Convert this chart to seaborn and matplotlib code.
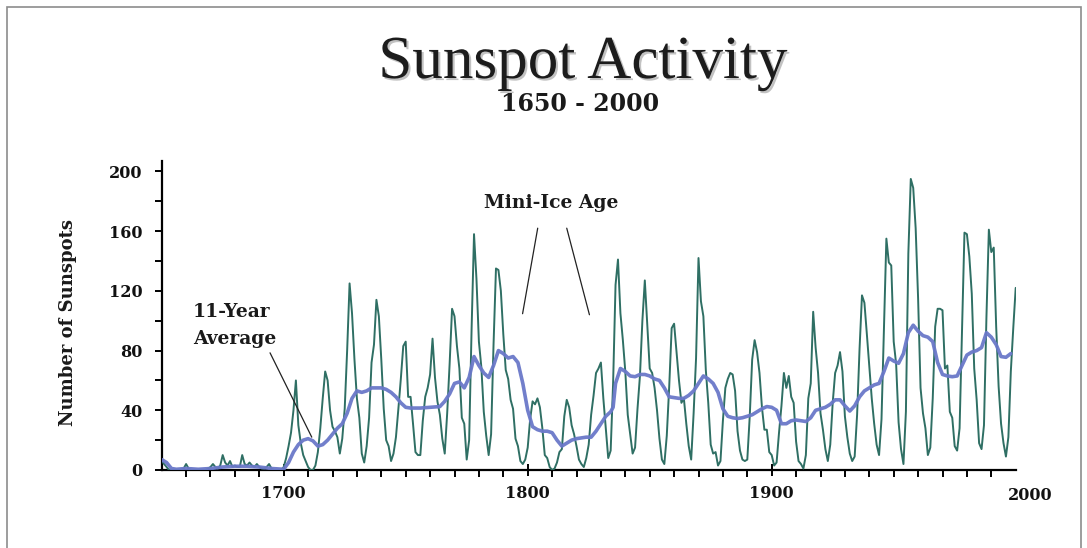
import numpy as np
import pandas as pd
import matplotlib
matplotlib.use("Agg")
import matplotlib.pyplot as plt
import matplotlib.patheffects as pe
from matplotlib.patches import Rectangle
from matplotlib.ticker import FixedLocator, NullFormatter
import seaborn as sns

# ---------------- data ----------------
years = list(range(1650, 2001))
sunspots = [
    # 1650-1699
    6, 4, 2, 0, 0, 0, 0, 0, 0, 1, 4, 1, 0, 0, 0, 0, 0, 0, 0, 1,
    2, 4, 2, 1, 3, 10, 5, 3, 6, 2, 3, 2, 2, 10, 4, 3, 5, 3, 2, 4,
    2, 1, 1, 2, 4, 1, 0, 0, 0, 0,
    # 1700-1749
    2, 8, 16, 25, 40, 60, 30, 18, 10, 6, 2, 0, 0, 3, 12, 28, 48, 66, 60, 40,
    29, 26, 22, 11, 21, 41, 80, 125, 105, 74, 48, 35, 11, 5, 16, 35, 72, 84, 114, 103,
    74, 41, 20, 16, 6, 11, 22, 41, 61, 83,
    # 1750-1799
    86, 49, 49, 31, 12, 10, 10, 33, 49, 55, 64, 88, 62, 46, 37, 21, 11, 38, 71, 108,
    103, 83, 68, 35, 31, 7, 20, 94, 158, 128, 86, 69, 39, 23, 10, 24, 84, 135, 134, 120,
    91, 67, 61, 47, 41, 21, 16, 6, 4, 7,
    # 1800-1849
    15, 34, 46, 44, 48, 42, 28, 10, 8, 2, 0, 1, 5, 12, 14, 36, 47, 42, 30, 24,
    16, 7, 4, 2, 8, 17, 37, 50, 65, 68, 72, 48, 28, 8, 13, 58, 124, 141, 105, 87,
    66, 37, 24, 11, 15, 41, 63, 100, 127, 98,
    # 1850-1899
    68, 65, 55, 40, 21, 7, 4, 23, 56, 95, 98, 79, 60, 45, 48, 31, 16, 7, 38, 75,
    142, 113, 103, 67, 45, 17, 11, 12, 3, 6, 33, 55, 61, 65, 64, 53, 26, 13, 7, 6,
    7, 36, 74, 87, 79, 65, 42, 27, 27, 12,
    # 1900-1949
    10, 3, 5, 25, 43, 65, 55, 63, 49, 45, 19, 6, 4, 1, 10, 48, 58, 106, 82, 65,
    38, 27, 14, 6, 17, 45, 65, 70, 79, 66, 36, 22, 11, 6, 9, 37, 81, 117, 112, 91,
    69, 48, 31, 17, 10, 34, 94, 155, 139, 137,
    # 1950-2000
    86, 71, 32, 14, 4, 39, 145, 195, 189, 162, 115, 55, 38, 28, 10, 15, 48, 96, 108, 108,
    107, 68, 70, 39, 35, 16, 13, 28, 94, 159, 158, 143, 118, 68, 47, 18, 14, 30, 102, 161,
    146, 149, 96, 56, 31, 18, 9, 22, 66, 95, 122,
]

avg_years = [1650, 1652, 1654, 1656, 1660, 1665, 1670, 1675, 1680, 1685, 1690, 1695,
             1700, 1702, 1704, 1706, 1708, 1710, 1712, 1714, 1716, 1718, 1720, 1722,
             1724, 1726, 1728, 1730, 1732, 1734, 1736, 1738, 1740, 1742, 1744, 1746,
             1748, 1750, 1752, 1756, 1760, 1764, 1766, 1768, 1770, 1772, 1774, 1776,
             1778, 1780, 1782, 1784, 1786, 1788, 1790, 1792, 1794, 1796, 1798, 1800,
             1802, 1804, 1806, 1808, 1810, 1812, 1814, 1816, 1818, 1820, 1822, 1824,
             1826, 1828, 1830, 1832, 1834, 1835, 1836, 1838, 1840, 1842, 1844, 1846,
             1848, 1850, 1852, 1854, 1856, 1858, 1860, 1862, 1864, 1866, 1868, 1870,
             1872, 1874, 1876, 1878, 1880, 1882, 1884, 1886, 1888, 1890, 1892, 1894,
             1896, 1898, 1900, 1902, 1904, 1906, 1908, 1910, 1912, 1914, 1916, 1918,
             1920, 1922, 1924, 1926, 1928, 1930, 1932, 1934, 1936, 1938, 1940, 1942,
             1944, 1946, 1948, 1950, 1952, 1954, 1956, 1958, 1960, 1962, 1964, 1966,
             1968, 1970, 1972, 1974, 1976, 1978, 1980, 1982, 1984, 1986, 1988, 1990,
             1992, 1994, 1996, 1998]
avg_values = [7, 5, 1, 0.5, 1, 0.5, 1, 2, 2.5, 2.5, 2, 1,
              0.5, 5, 12, 17, 20, 21, 19.5, 16, 17, 20, 24, 28,
              31, 38, 48, 53, 52, 53, 55, 55, 55, 54, 52, 49,
              45, 42, 41.5, 41.5, 42, 42.5, 46, 51, 58, 59, 55, 62,
              76, 70, 65, 62, 70, 80, 78, 75, 76, 72, 58, 40,
              29, 27, 26, 26, 25, 20, 16, 18, 20, 21, 21.5, 22,
              22, 26, 31, 36, 39, 42, 58, 68, 66, 63, 62.5, 64,
              64, 63, 61, 60, 55, 49, 48.5, 48, 48, 50, 53, 58,
              63, 61, 58, 52, 41, 36, 35, 34.5, 35, 36, 37, 39,
              41, 42.5, 42, 40, 31, 31, 33, 33.5, 33, 32.5, 35, 40,
              41, 42, 44, 47, 47, 43, 39.5, 43, 49, 53, 55, 57,
              58, 66, 75, 73, 71.5, 78, 92, 97, 93, 90, 89, 86,
              72, 64, 63, 62.5, 63, 70, 77, 79, 80, 82, 92, 89,
              84, 76, 75.5, 78]

y_ticks = [0, 40, 80, 120, 160, 200]
y_minor = [20, 60, 100, 140, 180]
x_ticks = [1700, 1800, 1900]
x_minor = [y for y in range(1660, 2000, 10) if y not in (1700, 1800, 1900)]

title = "Sunspot Activity"
subtitle = "1650 - 2000"
ylabel = "Number of Sunspots"

# ---------------- figure ----------------
W, H = 1087, 548
sns.set_style("white")
plt.rcParams["font.family"] = ["DejaVu Serif", "DejaVu Sans"]
fig = plt.figure(figsize=(W / 100, H / 100), dpi=100, facecolor="white")

def fx(px):
    return px / W

def fy(py):
    return 1 - py / H

ax = fig.add_axes([fx(161.7), fy(470), fx(1015.7) - fx(161.7), fy(161) - fy(470)])
ax.set_facecolor("white")

df = pd.DataFrame({"year": years, "spots": sunspots})
dfa = pd.DataFrame({"year": avg_years, "avg": avg_values})
sns.lineplot(data=df, x="year", y="spots", ax=ax, color="#2f6f64", linewidth=1.4, zorder=3)
sns.lineplot(data=dfa, x="year", y="avg", ax=ax, color="#6a78c9", linewidth=2.6, alpha=0.95, zorder=4)

ax.set_xlim(1650, 2000)
ax.set_ylim(0, 207)
ax.set_xlabel("")
ax.set_ylabel("")

for s in ["top", "right"]:
    ax.spines[s].set_visible(False)
for s in ["left", "bottom"]:
    ax.spines[s].set_color("black")
    ax.spines[s].set_linewidth(1.6)

ax.set_yticks(y_ticks)
ax.set_yticklabels([str(v) for v in y_ticks])
ax.yaxis.set_minor_locator(FixedLocator(y_minor))
ax.yaxis.set_minor_formatter(NullFormatter())
ax.set_xticks(x_ticks)
ax.set_xticklabels([str(v) for v in x_ticks])
ax.xaxis.set_minor_locator(FixedLocator(x_minor))
ax.xaxis.set_minor_formatter(NullFormatter())

ax.tick_params(axis="y", which="both", direction="out", length=5, width=1.4,
               color="black", left=True, pad=9)
ax.tick_params(axis="x", which="minor", direction="out", length=5, width=1.4,
               color="black", bottom=True)
ax.tick_params(axis="x", which="major", direction="inout", length=9, width=1.4,
               color="black", bottom=True, pad=6)
for lab in ax.get_yticklabels() + ax.get_xticklabels():
    lab.set_fontweight("bold")
    lab.set_fontsize(11.5)
    lab.set_color("#111111")

# separate "2000" label (sits right of the axis end in the original)
ax.text(2006, -0.082, "2000", transform=ax.get_xaxis_transform(), ha="center",
        va="center", fontsize=11.5, fontweight="bold", color="#111111", clip_on=False)

# annotation lines
ax.annotate("", xy=(1711.5, 22), xytext=(1694.4, 78.5),
            arrowprops=dict(arrowstyle="-", color="#222222", lw=0.9, shrinkA=0, shrinkB=0))
ax.annotate("", xy=(1797.9, 104.7), xytext=(1804.1, 162),
            arrowprops=dict(arrowstyle="-", color="#222222", lw=0.9, shrinkA=0, shrinkB=0))
ax.annotate("", xy=(1825.3, 104), xytext=(1816.0, 162),
            arrowprops=dict(arrowstyle="-", color="#222222", lw=0.9, shrinkA=0, shrinkB=0))

# annotation texts
fig.text(fx(193), fy(317), "11-Year", ha="left", va="baseline", fontsize=13.5,
         fontweight="bold", color="#1a1a1a")
fig.text(fx(193), fy(344), "Average", ha="left", va="baseline", fontsize=13.5,
         fontweight="bold", color="#1a1a1a")
fig.text(fx(551.5), fy(208), "Mini-Ice Age", ha="center", va="baseline", fontsize=13.5,
         fontweight="bold", color="#1a1a1a")

# y label
fig.text(fx(68), fy(322), ylabel, rotation=90, ha="center", va="center",
         fontsize=13, fontweight="bold", color="#1a1a1a")

# title and subtitle
fig.text(fx(583), fy(78), title, ha="center", va="baseline", fontsize=44,
         family=["Liberation Serif", "DejaVu Serif"], color="#1c1c1c",
         path_effects=[pe.SimplePatchShadow(offset=(1.5, -1.5), shadow_rgbFace="#9a9a9a", alpha=0.6),
                       pe.Normal()])
fig.text(fx(580), fy(111), subtitle, ha="center", va="baseline", fontsize=17,
         fontweight="bold", color="#1a1a1a")

# frame around the picture
fig.patches.append(Rectangle((fx(7), fy(560)), fx(1081) - fx(7), fy(7) - fy(560),
                             transform=fig.transFigure, fill=False, edgecolor="#8c8c8c",
                             linewidth=1.2))

fig.savefig("out.png", dpi=100, facecolor="white")
